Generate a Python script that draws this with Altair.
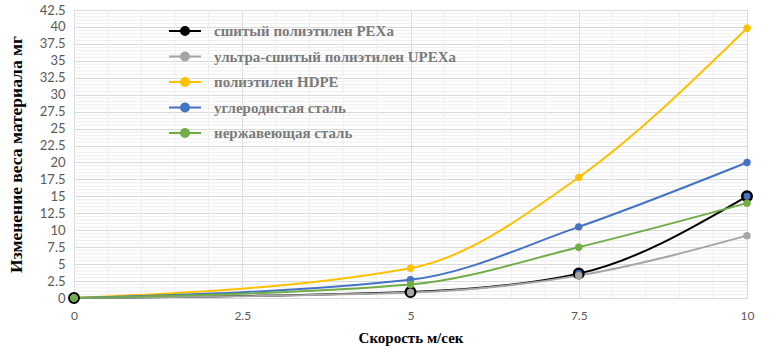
import altair as alt
import pandas as pd

series = [
    "сшитый полиэтилен PEXa",
    "ультра-сшитый полиэтилен UPEXa",
    "полиэтилен HDPE",
    "углеродистая сталь",
    "нержавеющая сталь",
]
colors = ["#000000", "#A5A5A5", "#FFC000", "#4472C4", "#70AD47"]
speed = [0, 5, 7.5, 10]
pexa = [0, 0.9, 3.6, 15.0]
upexa = [0, 0.8, 3.3, 9.2]
hdpe = [0, 4.4, 17.8, 39.8]
carbon = [0, 2.7, 10.5, 20.0]
stainless = [0, 2.0, 7.5, 14.0]

x_ticks = [0, 2.5, 5, 7.5, 10]
y_ticks = [i * 2.5 for i in range(18)]
x_minor = [i * 0.5 for i in range(21) if i % 5 != 0]
y_minor = [i * 0.5 for i in range(86) if i % 5 != 0]

values = [pexa, upexa, hdpe, carbon, stainless]
rows = []
for i, (name, vals) in enumerate(zip(series, values)):
    for x, y in zip(speed, vals):
        rows.append({"series": name, "order": i, "x": x, "y": y})
df = pd.DataFrame(rows)

grid_major = "#D9D9D9"
grid_minor = "#EEEEEE"

x_scale = alt.Scale(domain=[0, 10], nice=False)
y_scale = alt.Scale(domain=[0, 42.5], nice=False)

x_axis = alt.Axis(
    values=x_ticks,
    labelExpr="datum.value + ''",
    labelOverlap=False,
    labelFlush=False,
    title="Скорость м/сек",
    titleFont="Liberation Serif",
    titleFontSize=15,
    titleFontWeight="bold",
    titleColor="#000000",
    titlePadding=9,
    labelFont="Lato",
    labelFontSize=12,
    labelColor="#595959",
    labelPadding=12,
    domain=False,
    ticks=False,
    grid=True,
    gridColor=grid_major,
    gridWidth=1,
)
y_axis = alt.Axis(
    values=y_ticks,
    labelExpr="datum.value + ''",
    labelOverlap=False,
    labelFlush=False,
    title="Изменение веса материала мг",
    titleFont="Liberation Serif",
    titleFontSize=17.5,
    titleFontWeight="bold",
    titleColor="#000000",
    titlePadding=14,
    labelFont="Lato",
    labelFontSize=13,
    labelColor="#595959",
    labelPadding=9,
    domain=False,
    ticks=False,
    grid=True,
    gridColor=grid_major,
    gridWidth=1,
)

sym_path = "M-2,0H2M0.5,0A0.5,0.5 0 1,1 -0.5,0A0.5,0.5 0 1,1 0.5,0"

color_enc = alt.Color(
    "series:N",
    scale=alt.Scale(domain=series, range=colors),
    legend=alt.Legend(
        title=None,
        orient="none",
        legendX=102,
        legendY=12,
        padding=0,
        symbolType=sym_path,
        symbolSize=256,
        symbolStrokeWidth=2,
        labelOffset=20,
        rowPadding=8.5,
        labelFont="Liberation Serif",
        labelFontSize=15,
        labelFontWeight="bold",
        labelColor="#7A7A7A",
        labelLimit=400,
    ),
)

X = alt.X("x:Q", scale=x_scale, axis=x_axis)
Y = alt.Y("y:Q", scale=y_scale, axis=y_axis)

minor_v = alt.Chart(pd.DataFrame({"x": x_minor})).mark_rule(
    color=grid_minor, strokeWidth=1
).encode(x=X)
minor_h = alt.Chart(pd.DataFrame({"y": y_minor})).mark_rule(
    color=grid_minor, strokeWidth=1
).encode(y=Y)

base = alt.Chart(df)

lines = base.mark_line(interpolate="monotone", strokeWidth=2).encode(
    x=X, y=Y, color=color_enc, detail="series:N", order="order:Q"
)

pexa_pts = base.transform_filter(alt.datum.order == 0).mark_point(
    filled=True, fill="#4472C4", stroke="#000000", strokeWidth=2.5, size=90, opacity=1
).encode(x=X, y=Y)

other_pts = base.transform_filter(alt.datum.order > 0).mark_point(
    filled=True, size=55, opacity=1
).encode(x=X, y=Y, color=color_enc)

chart = (
    alt.layer(minor_v, minor_h, lines, pexa_pts, other_pts)
    .properties(
        width=673,
        height=288,
        autosize=alt.AutoSizeParams(type="none"),
        padding={"left": 74, "top": 10, "right": 36, "bottom": 64},
    )
    .configure_view(stroke=None)
    .configure(background="white")
)

chart.save("out.html", embed_options={"renderer": "svg", "actions": False})
